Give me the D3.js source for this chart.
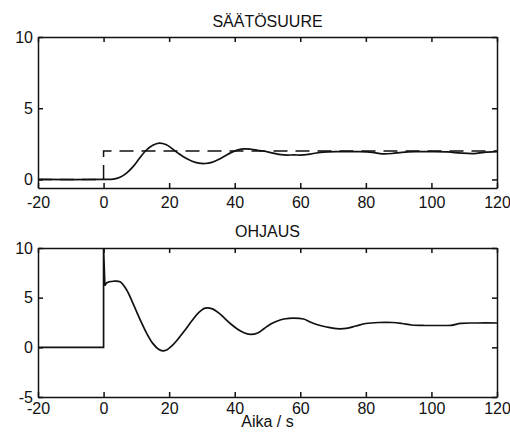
<!DOCTYPE html>
<html>
<head>
<meta charset="utf-8">
<script src="https://cdn.jsdelivr.net/npm/d3@7"></script>
<style>
  body { margin: 0; background: #fff; }
  svg text { font-family: "Liberation Sans", Arial, sans-serif; fill: #111; }
</style>
</head>
<body>
<svg id="chart"></svg>
<script>
// chart data
const xTicks = [-20, 0, 20, 40, 60, 80, 100, 120];
const topYTicks = [0, 5, 10];
const bottomYTicks = [-5, 0, 5, 10];
const topTitle = 'SÄÄTÖSUURE';
const bottomTitle = 'OHJAUS';
const xLabel = 'Aika / s';

// setpoint (dashed) step
const setpointT = [-20, 0, 0, 120];
const setpointY = [0, 0, 2, 2];

// controlled variable (solid)
const outputT = [-20, 0, 3, 5, 7, 9, 11, 13, 15, 17, 19, 21, 23, 25, 27, 29, 31, 33, 35, 37, 39, 41, 43, 45,
  47, 49, 51, 53, 55, 58, 61, 64, 67, 72, 78, 82, 85, 88, 91, 95, 100, 105, 109, 113, 116, 120];
const outputY = [0, 0, 0.02, 0.15, 0.45, 0.9, 1.5, 2.05, 2.4, 2.55, 2.45, 2.15, 1.8, 1.5, 1.28, 1.15, 1.12, 1.2,
  1.4, 1.65, 1.9, 2.08, 2.15, 2.12, 2.05, 1.98, 1.88, 1.78, 1.72, 1.72, 1.72, 1.82, 1.92, 1.95, 1.95, 1.9, 1.8,
  1.82, 1.9, 1.95, 1.95, 1.93, 1.85, 1.82, 1.9, 1.95];

// control signal; first four points are the step / spike at t = 0
const controlT = [-20, 0, 0, 0.4, 1, 3, 5, 7, 9, 11, 13, 15, 17, 18, 19, 21, 23, 25, 27, 29, 31, 33, 35, 37, 39,
  41, 43, 45, 47, 49, 51, 53, 55, 58, 61, 63, 65, 68, 71, 74, 77, 80, 84, 88, 91, 94, 98, 102, 106, 109, 114, 120];
const controlY = [0, 0, 10, 6.2, 6.5, 6.65, 6.6, 5.8, 4.4, 2.9, 1.5, 0.4, -0.25, -0.35, -0.3, 0.2, 0.95, 1.8,
  2.7, 3.5, 3.95, 3.9, 3.5, 2.9, 2.3, 1.8, 1.45, 1.3, 1.45, 1.9, 2.35, 2.65, 2.85, 2.95, 2.85, 2.55, 2.3, 2.05,
  1.88, 1.9, 2.15, 2.4, 2.5, 2.5, 2.4, 2.25, 2.2, 2.2, 2.22, 2.42, 2.45, 2.45];
const controlStepCount = 4;

const width = 510;
const height = 442;
const plotLeft = 38;
const plotRight = 497;
const ink = '#111';
const noLabel = () => '';

const svg = d3.select('#chart')
  .attr('width', width)
  .attr('height', height);

const x = d3.scaleLinear().domain([-20, 120]).range([plotLeft, plotRight]);

/**
 * Draws one boxed MATLAB style panel with inward ticks on all sides
 */
function drawPanel(yScale, yTicks, title, titleBaseline, xLabelPad) {
  const top = yScale.range()[1];
  const bottom = yScale.range()[0];
  const g = svg.append('g');

  const bottomAxis = d3.axisBottom(x).tickValues(xTicks).tickSize(-5).tickSizeOuter(0)
    .tickPadding(xLabelPad).tickFormat(d => String(d));
  const topAxis = d3.axisTop(x).tickValues(xTicks).tickSize(-5).tickSizeOuter(0).tickFormat(noLabel);
  const leftAxis = d3.axisLeft(yScale).tickValues(yTicks).tickSize(-5).tickSizeOuter(0)
    .tickPadding(5).tickFormat(d => String(d));
  const rightAxis = d3.axisRight(yScale).tickValues(yTicks).tickSize(-5).tickSizeOuter(0).tickFormat(noLabel);

  g.append('g').attr('transform', `translate(0,${bottom})`).call(bottomAxis);
  g.append('g').attr('transform', `translate(0,${top})`).call(topAxis);
  g.append('g').attr('transform', `translate(${plotLeft},0)`).call(leftAxis);
  g.append('g').attr('transform', `translate(${plotRight},0)`).call(rightAxis);

  g.selectAll('.domain, .tick line').attr('stroke', ink).attr('stroke-width', 1.5);
  g.selectAll('.tick text')
    .attr('font-size', 16)
    .attr('fill', ink);

  g.append('text')
    .attr('x', (plotLeft + plotRight) / 2)
    .attr('y', titleBaseline)
    .attr('text-anchor', 'middle')
    .attr('font-size', 16)
    .text(title);

  return g;
}

// --- top panel: SÄÄTÖSUURE
const yTop = d3.scaleLinear().domain([-0.6, 10]).range([188, 37]);
const topPanel = drawPanel(yTop, topYTicks, topTitle, 27, 9);

const setpointLine = d3.line().x(i => x(setpointT[i])).y(i => yTop(setpointY[i]));
topPanel.append('path')
  .attr('d', setpointLine(d3.range(setpointT.length)))
  .attr('fill', 'none')
  .attr('stroke', ink)
  .attr('stroke-width', 1.5)
  .attr('stroke-dasharray', '14,8');

const outputLine = d3.line()
  .x(i => x(outputT[i]))
  .y(i => yTop(outputY[i]))
  .curve(d3.curveCatmullRom.alpha(0.5));
topPanel.append('path')
  .attr('d', outputLine(d3.range(outputT.length)))
  .attr('fill', 'none')
  .attr('stroke', ink)
  .attr('stroke-width', 1.7);

// --- bottom panel: OHJAUS
const yBottom = d3.scaleLinear().domain([-5, 10]).range([397, 248]);
const bottomPanel = drawPanel(yBottom, bottomYTicks, bottomTitle, 237, 6);

// step part drawn straight, the rest smooth
const stepIdx = d3.range(controlStepCount);
const smoothIdx = d3.range(controlStepCount - 1, controlT.length);
const controlStepLine = d3.line().x(i => x(controlT[i])).y(i => yBottom(controlY[i]));
const controlLine = d3.line()
  .x(i => x(controlT[i]))
  .y(i => yBottom(controlY[i]))
  .curve(d3.curveCatmullRom.alpha(0.5));

bottomPanel.append('path')
  .attr('d', controlStepLine(stepIdx))
  .attr('fill', 'none')
  .attr('stroke', ink)
  .attr('stroke-width', 1.7);
bottomPanel.append('path')
  .attr('d', controlLine(smoothIdx))
  .attr('fill', 'none')
  .attr('stroke', ink)
  .attr('stroke-width', 1.7);

svg.append('text')
  .attr('x', (plotLeft + plotRight) / 2)
  .attr('y', 427)
  .attr('text-anchor', 'middle')
  .attr('font-size', 16)
  .text(xLabel);
</script>
</body>
</html>
